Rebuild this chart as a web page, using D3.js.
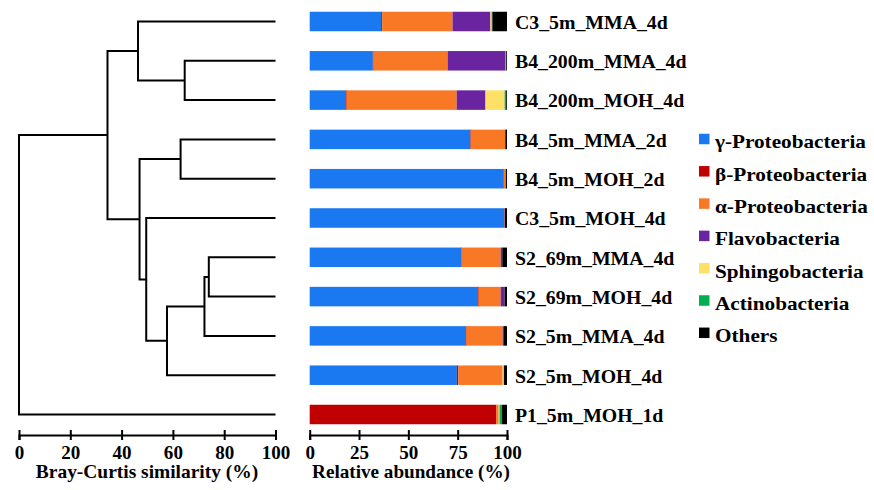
<!DOCTYPE html>
<html lang="en">
  <head>
    <meta charset="utf-8" />
    <script src="https://d3js.org/d3.v7.min.js"></script>
    <style>
      body {
        margin: 0;
        background: #fff;
      }
      .axis path,
      .axis line {
        stroke: #000;
        stroke-width: 2px;
      }
    </style>
  </head>
  <body>
    <svg width="874" height="490"></svg>
    <script>
      // samples, top to bottom
      var samples = [
        "C3_5m_MMA_4d",
        "B4_200m_MMA_4d",
        "B4_200m_MOH_4d",
        "B4_5m_MMA_2d",
        "B4_5m_MOH_2d",
        "C3_5m_MOH_4d",
        "S2_69m_MMA_4d",
        "S2_69m_MOH_4d",
        "S2_5m_MMA_4d",
        "S2_5m_MOH_4d",
        "P1_5m_MOH_1d",
      ];

      var taxa = [
        "γ-Proteobacteria",
        "β-Proteobacteria",
        "α-Proteobacteria",
        "Flavobacteria",
        "Sphingobacteria",
        "Actinobacteria",
        "Others",
      ];
      var colors = ["#1a78f0", "#c00000", "#f97826", "#6a24a0", "#ffe066", "#00b050", "#000000"];

      // relative abundance (%) per taxon, same order as samples
      var gamma = [36.2, 32.0, 18.4, 81.5, 98.0, 98.8, 76.7, 85.4, 79.2, 74.6, 0];
      var beta = [0.5, 0.2, 0.2, 0.1, 0.2, 0.1, 0.1, 0.1, 0.1, 0.7, 94.5];
      var alpha = [35.7, 37.7, 55.9, 17.4, 1.1, 0.1, 20.0, 11.3, 18.5, 22.5, 1.3];
      var flavo = [19.2, 29.2, 14.6, 0.2, 0.1, 0, 0.8, 2.0, 0.4, 0, 0];
      var sphingo = [0.6, 0.1, 9.7, 0, 0, 0, 0, 0, 0, 0.5, 0.4];
      var actino = [0.4, 0.4, 0.8, 0.1, 0.1, 0, 0, 0, 0, 0.2, 1.3];
      var others = [7.4, 0.4, 0.4, 0.7, 0.5, 1.0, 2.4, 1.2, 1.8, 1.5, 2.5];

      // dendrogram merges: [child, child, similarity]; leaf = sample index, merge k = 11 + k
      var merges = [
        [1, 2, 64.6],
        [0, 11, 46.4],
        [3, 4, 63.0],
        [6, 7, 74.0],
        [14, 8, 72.3],
        [15, 9, 57.7],
        [5, 16, 49.6],
        [13, 17, 47.0],
        [12, 18, 34.5],
        [19, 10, 0],
      ];

      var simTicks = [0, 20, 40, 60, 80, 100];
      var abTicks = [0, 25, 50, 75, 100];

      var serif = '"Liberation Serif", "Times New Roman", Times, "DejaVu Serif", serif';
      var svg = d3.select("svg");
      var series = [gamma, beta, alpha, flavo, sphingo, actino, others];

      var y = d3.scalePoint().domain(d3.range(samples.length)).range([21.5, 414.5]);
      var xSim = d3.scaleLinear().domain([0, 100]).range([19, 275.5]);
      var xAb = d3.scaleLinear().domain([0, 100]).range([309.7, 507]);
      var barH = 19.5;
      var axisY = 435;

      function txt(sel, size) {
        return sel
          .style("font-family", serif)
          .style("font-weight", "bold")
          .style("font-size", size + "px")
          .attr("fill", "#000");
      }

      // ---- dendrogram
      var nodes = samples.map(function (s, i) {
        return { x: xSim(100), y: y(i) };
      });
      var dendro = svg.append("g").attr("fill", "none").attr("stroke", "#000").attr("stroke-width", 2);
      merges.forEach(function (m) {
        var a = nodes[m[0]],
          b = nodes[m[1]];
        var nx = xSim(m[2]);
        var ny = (a.y + b.y) / 2;
        dendro
          .append("path")
          .attr("d", "M" + a.x + "," + a.y + "H" + nx + "V" + b.y + "H" + b.x);
        nodes.push({ x: nx, y: ny });
      });

      // ---- stacked bars
      var stacked = samples.map(function (s, i) {
        var x0 = 0;
        return series.map(function (arr, k) {
          var seg = { i: i, k: k, x0: x0, x1: x0 + arr[i] };
          x0 += arr[i];
          return seg;
        });
      });
      svg
        .append("g")
        .selectAll("g")
        .data(stacked)
        .join("g")
        .selectAll("rect")
        .data(function (d) {
          return d.filter(function (s) {
            return s.x1 > s.x0;
          });
        })
        .join("rect")
        .attr("x", function (d) {
          return xAb(d.x0);
        })
        .attr("y", function (d) {
          return y(d.i) - barH / 2;
        })
        .attr("width", function (d) {
          return Math.max(xAb(d.x1) - xAb(d.x0), 0.8);
        })
        .attr("height", barH)
        .attr("fill", function (d) {
          return colors[d.k];
        });

      // sample labels (reference type is a little wider than Liberation Serif)
      txt(
        svg
          .append("g")
          .selectAll("text")
          .data(samples)
          .join("text")
          .attr("transform", function (d, i) {
            return "translate(515," + (y(i) + 1) + ") scale(1.1,1)";
          })
          .attr("dy", "0.35em")
          .text(function (d) {
            return d;
          }),
        18
      );

      // ---- axes
      function drawAxis(scale, ticks) {
        var g = svg
          .append("g")
          .attr("class", "axis")
          .attr("transform", "translate(0," + axisY + ")")
          .call(d3.axisBottom(scale).tickValues(ticks).tickSizeOuter(0).tickSize(5));
        g.selectAll(".tick line").attr("y1", -5).attr("y2", 5);
        txt(
          g.selectAll(".tick text").attr("y", 0).attr("dy", 0).attr("transform", "translate(0,24) scale(1.06,1)"),
          18
        );
        return g;
      }
      drawAxis(xSim, simTicks);
      drawAxis(xAb, abTicks);

      txt(
        svg
          .append("text")
          .attr("transform", "translate(147,478) scale(1.08,1)")
          .attr("text-anchor", "middle")
          .text("Bray-Curtis similarity (%)"),
        18
      );
      txt(
        svg
          .append("text")
          .attr("transform", "translate(411,478) scale(1.065,1)")
          .attr("text-anchor", "middle")
          .text("Relative abundance (%)"),
        18
      );

      // ---- legend
      var legend = svg
        .append("g")
        .selectAll("g")
        .data(taxa)
        .join("g")
        .attr("transform", function (d, i) {
          return "translate(699," + (139 + i * 32.3) + ")";
        });
      legend
        .append("rect")
        .attr("y", -5.25)
        .attr("width", 10.5)
        .attr("height", 10.5)
        .attr("fill", function (d, i) {
          return colors[i];
        });
      txt(
        legend
          .append("text")
          .attr("transform", "translate(16,3) scale(1.18,1)")
          .attr("dy", "0.35em")
          .text(function (d) {
            return d;
          }),
        18
      );
    </script>
  </body>
</html>
